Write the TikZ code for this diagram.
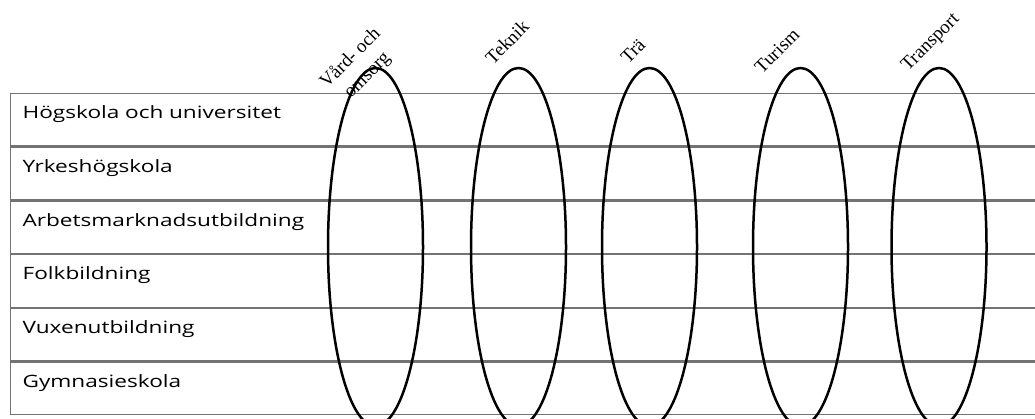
\documentclass[tikz,border=0pt]{standalone}
\usepackage{fontspec}
\setmainfont{Liberation Serif}
\newfontfamily\rowfont[FakeStretch=1.33]{Open Sans}
\usetikzlibrary{shapes.geometric, positioning}

\begin{document}
\begin{tikzpicture}[x=1pt, y=-1pt]
    \tikzstyle{row} = [rectangle, draw=black!55, line width=1.2pt, text width=1020pt,
                       align=left, inner xsep=12pt, inner ysep=0pt, minimum height=52.5pt,
                       text height=10pt, text depth=12pt, anchor=north west,
                       font=\rowfont\fontsize{17}{19}\selectfont]
    \tikzstyle{area} = [ellipse, draw, line width=2.5pt, inner sep=0pt,
                        minimum width=95pt, minimum height=358pt]
    \tikzstyle{topic} = [rotate=45, align=center, inner sep=0pt,
                         font=\fontsize{19}{21}\selectfont]

    \useasboundingbox (0,0) rectangle (1035,419);
    \clip (0,0) rectangle (1035,419);

    % utbildningsformer
    \node [row] (hs) at (10,93) {Högskola och universitet};
    \node [row, below=0pt of hs.south west, anchor=north west] (yh) {Yrkeshögskola};
    \node [row, below=0pt of yh.south west, anchor=north west] (amu) {Arbetsmarknadsutbildning};
    \node [row, below=0pt of amu.south west, anchor=north west] (fb) {Folkbildning};
    \node [row, below=0pt of fb.south west, anchor=north west] (vux) {Vuxenutbildning};
    \node [row, below=0pt of vux.south west, anchor=north west] (gy) {Gymnasieskola};

    % branscher
    \node [area] (vard) at (375.5,247) {};
    \node [area] (teknik) at (518.5,247) {};
    \node [area] (tra) at (649.5,247) {};
    \node [area] (turism) at (800.5,247) {};
    \node [area] (transport) at (939,247) {};

    \node [topic] (vardl) at (359,67) {Vård- och\\[3pt]omsorg};
    \node [topic] (teknikl) at (507,42) {Teknik};
    \node [topic] (tral) at (633,51) {Trä};
    \node [topic] (turisml) at (777,51) {Turism};
    \node [topic] (transportl) at (931,43) {Transport};
\end{tikzpicture}
\end{document}
